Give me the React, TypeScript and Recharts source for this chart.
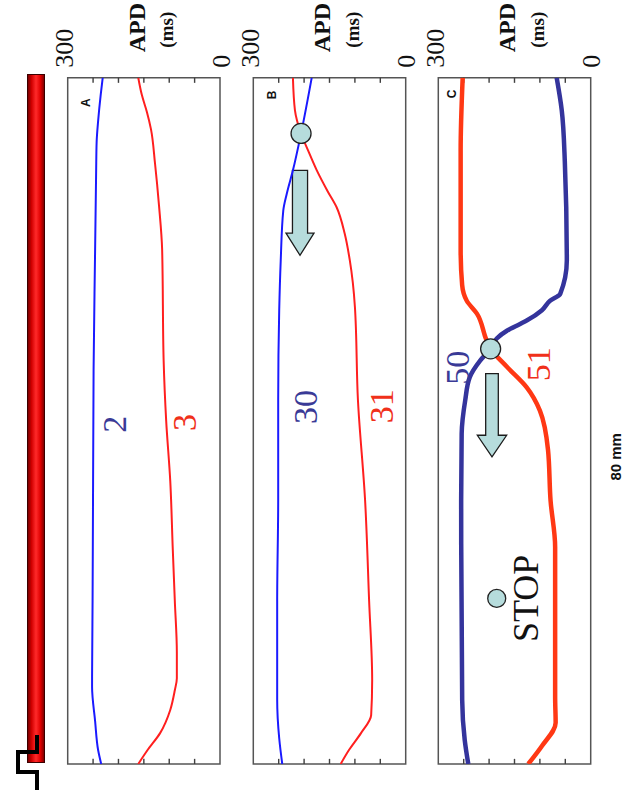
import React from 'react'
import { LineChart, Line, XAxis, YAxis, ReferenceArea, ReferenceDot } from 'recharts'

// position along the strand in mm (0 = paced end, bottom) and APD in ms
const A_BLUE_POS = [80, 78, 75, 72.5, 69, 60, 46, 33, 19, 9, 5, 1.6, 0]
const A_BLUE_APD = [231, 235, 240, 243, 244, 246, 249, 250, 251, 252, 246, 240, 234]
const A_RED_POS = [80, 78, 76, 74, 70, 65, 60, 47, 40, 33, 25, 19, 13, 10, 8.6, 6.3, 3.6, 1.6, 0]
const A_RED_APD = [161, 154, 144, 136, 128, 120, 114, 111, 106, 98, 93, 89, 85, 85, 89, 98, 118, 143, 161]

const B_BLUE_POS = [80, 73.5, 69.2, 66.5, 64.5, 58.7, 52.9, 42.4, 30.8, 19, 7.5, 3, 0]
const B_BLUE_APD = [185, 206, 222, 234, 241, 246, 249, 251, 251, 253, 253, 249, 243]
const B_RED_POS = [80, 76.2, 73.5, 71.5, 69.2, 66.8, 64.9, 61.8, 58.7, 53.3, 42.4, 30.8, 19, 9.8, 5.7, 3.6, 1.6, 0]
const B_RED_APD = [222, 218, 206, 192, 175, 154, 136, 120, 110, 100, 94, 80, 72, 66, 68, 88, 112, 128]

const C_BLUE_POS = [80, 76.2, 70.3, 58.7, 54.8, 54, 52.9, 51.7, 51.3, 50.5, 49.6, 48.4, 47, 45.1, 42.4, 38.5, 30.7, 7.5, 2.8, 0]
const C_BLUE_APD = [67, 57, 51, 47, 60, 80, 96, 126, 139, 165, 185, 197, 218, 238, 247, 254, 255, 253, 248, 241]
const C_RED_POS = [80, 71.5, 59.9, 55.8, 54, 52.5, 49.4, 48.4, 46.3, 43.9, 41.2, 36.6, 30.7, 25.3, 7.8, 4.8, 2.1, 0]
const C_RED_APD = [252, 256, 256, 253, 244, 224, 205, 197, 165, 126, 100, 84, 79, 70, 70, 69, 96, 123]

const APD_TICKS = [0, 50, 100, 150, 200, 250, 300]
const INNER_TICKS = [50, 100, 150, 200, 250]
const POS_MIN = 0
const POS_MAX = 80
const TICK_LEN = 0.6 // mm
const TICK_HALF = 1.4 // ms

const zip = (pos: number[], apd: number[]) => pos.map((p, i) => ({ pos: p, apd: apd[i] }))

const W = 627
const H = 801
const TOP = 77.7
const BOTTOM = 764

const SERIF = '"Liberation Serif", "Times New Roman", serif'
const SANS = '"Liberation Sans", Arial, sans-serif'
const FRAME = '#555'
const TICK = '#404040'
const TEAL = '#b6dcdc'
const NAVY = '#3a3a96'
const ORANGE = '#f0301a'

// rotated text drawn at a data point
const vText = (text: string, size: number, color: string, weight = 'normal', family = SERIF) =>
  (p: any) => (
    <text transform={`translate(${p.cx},${p.cy}) rotate(-90)`} textAnchor="middle"
      dominantBaseline="central" fontSize={size} fill={color} fontWeight={weight} fontFamily={family}>
      {text}
    </text>
  )

const arrowShape = (shaft: number, head: number) => (p: any) => {
  const { x, y, width: w, height: h } = p
  const cx = x + w / 2
  const s = (w * shaft) / 2
  const hy = y + h * (1 - head)
  const pts = [[cx - s, y], [cx + s, y], [cx + s, hy], [x + w, hy], [cx, y + h], [x, hy], [cx - s, hy]]
  return <polygon points={pts.map(q => q.join(',')).join(' ')} fill={TEAL} stroke="#1c1c1c" strokeWidth={1.3} />
}

const TopTick = (p: any) => {
  const v = p.payload?.value
  if (v !== 0 && v !== 300) return <g />
  return (
    <text transform={`translate(${p.x + (v === 300 ? -3 : 1)},${p.y - 15}) rotate(-90)`} textAnchor="start"
      dominantBaseline="central" fontSize={26} fontFamily={SERIF} fill="#111">
      {v}
    </text>
  )
}

const ApdTitle = ({ viewBox }: any) => (
  <g fontFamily={SERIF} fontWeight="bold" fill="#111">
    <text transform={`translate(${viewBox.x + 69},${viewBox.y - 50}) rotate(-90)`} textAnchor="middle"
      dominantBaseline="central" fontSize={24}>APD</text>
    <text transform={`translate(${viewBox.x + 99},${viewBox.y - 48}) rotate(-90)`} textAnchor="middle"
      dominantBaseline="central" fontSize={19}>(ms)</text>
  </g>
)

const MmTitle = ({ viewBox }: any) => (
  <text transform={`translate(${viewBox.x + 26},${viewBox.y + viewBox.height / 2 + 36}) rotate(-90)`}
    textAnchor="middle" dominantBaseline="central" fontFamily={SANS} fontWeight="bold" fontSize={15} fill="#111">
    80 mm
  </text>
)

interface PanelProps {
  left: number
  right: number
  letter: string
  letterAt: [number, number]
  mmLabel?: boolean
  children?: React.ReactNode
}

function Panel({ left, right, letter, letterAt, mmLabel, children }: PanelProps) {
  return (
    <div style={{ position: 'absolute', left: 0, top: 0 }}>
      <LineChart layout="vertical" width={W} height={H}
        margin={{ top: TOP, bottom: H - BOTTOM, left, right: W - right }}>
        <XAxis xAxisId="top" orientation="top" mirror height={1} type="number" domain={[0, 300]} reversed
          allowDataOverflow ticks={APD_TICKS} interval={0} axisLine={false} tickSize={5} tickMargin={0}
          tickLine={false} tick={TopTick} label={{ content: ApdTitle }} />
        <YAxis dataKey="pos" type="number" domain={[POS_MIN, POS_MAX]} reversed allowDataOverflow orientation="right"
          mirror width={1} tick={false} tickLine={false} axisLine={false}
          label={mmLabel ? { content: MmTitle } : undefined} />
        <ReferenceArea xAxisId="top" x1={0} x2={300} y1={POS_MIN} y2={POS_MAX} fill="none" stroke={FRAME}
          strokeWidth={1.5} ifOverflow="visible" />
        {/* inward tick marks on both short edges */}
        {INNER_TICKS.map(t => (
          <ReferenceArea key={`t${t}`} xAxisId="top" x1={t - TICK_HALF} x2={t + TICK_HALF}
            y1={POS_MAX - TICK_LEN} y2={POS_MAX} fill={TICK} fillOpacity={1} stroke="none" ifOverflow="visible" />
        ))}
        {INNER_TICKS.map(t => (
          <ReferenceArea key={`b${t}`} xAxisId="top" x1={t - TICK_HALF} x2={t + TICK_HALF}
            y1={POS_MIN} y2={POS_MIN + TICK_LEN} fill={TICK} fillOpacity={1} stroke="none" ifOverflow="visible" />
        ))}
        <ReferenceDot xAxisId="top" x={letterAt[0]} y={letterAt[1]} r={0}
          shape={vText(letter, 12, '#111', 'bold', SANS)} />
        {children}
      </LineChart>
    </div>
  )
}

export default function App() {
  return (
    <div style={{ position: 'absolute', left: 0, top: 0, width: W, height: H, background: '#fff', overflow: 'hidden' }}>
      {/* the strand and the pacing electrode */}
      <div style={{
        position: 'absolute', left: 27, top: 74, width: 18, height: 689, boxSizing: 'border-box',
        border: '1px solid #3a0000',
        background: 'linear-gradient(to right, #7a0000 0%, #d00000 22%, #ff2a2a 50%, #e00000 78%, #800000 100%)',
      }} />
      <svg style={{ position: 'absolute', left: 0, top: 0 }} width={60} height={H}>
        <polyline points="37,735 37,752 18,752 18,772 37,772 37,790" fill="none" stroke="#000" strokeWidth={4} />
      </svg>

      <Panel left={67.7} right={220} letter="A" letterAt={[264, 77.1]}>
        <Line xAxisId="top" data={zip(A_BLUE_POS, A_BLUE_APD)} dataKey="apd" type="monotone" stroke="#1a1aff"
          strokeWidth={2} dot={false} isAnimationActive={false} />
        <Line xAxisId="top" data={zip(A_RED_POS, A_RED_APD)} dataKey="apd" type="monotone" stroke="#ff1f1f"
          strokeWidth={2} dot={false} isAnimationActive={false} />
        <ReferenceDot xAxisId="top" x={208.7} y={39.6} r={0} shape={vText('2', 34, NAVY)} />
        <ReferenceDot xAxisId="top" x={70.9} y={39.8} r={0} shape={vText('3', 34, ORANGE)} />
      </Panel>

      <Panel left={253.3} right={405.7} letter="B" letterAt={[264, 78]}>
        <ReferenceArea xAxisId="top" x1={180.5} x2={235.6} y1={59.3} y2={69.2} shape={arrowShape(0.54, 0.26)} />
        <Line xAxisId="top" data={zip(B_BLUE_POS, B_BLUE_APD)} dataKey="apd" type="monotone" stroke="#1a1aff"
          strokeWidth={2} dot={false} isAnimationActive={false} />
        <Line xAxisId="top" data={zip(B_RED_POS, B_RED_APD)} dataKey="apd" type="monotone" stroke="#ff1f1f"
          strokeWidth={2} dot={false} isAnimationActive={false} />
        <ReferenceDot xAxisId="top" x={206} y={73.5} r={10} fill={TEAL} stroke="#222" strokeWidth={1.3} />
        <ReferenceDot xAxisId="top" x={198.2} y={41.6} r={0} shape={vText('30', 34, NAVY)} />
        <ReferenceDot xAxisId="top" x={47.6} y={41.7} r={0} shape={vText('31', 34, ORANGE)} />
      </Panel>

      <Panel left={438.3} right={590.7} letter="C" letterAt={[273, 78.1]} mmLabel>
        <ReferenceArea xAxisId="top" x1={165.4} x2={223.2} y1={35.8} y2={45.5} shape={arrowShape(0.43, 0.26)} />
        <Line xAxisId="top" data={zip(C_BLUE_POS, C_BLUE_APD)} dataKey="apd" type="monotone" stroke="#34349c"
          strokeWidth={4.5} dot={false} isAnimationActive={false} />
        <Line xAxisId="top" data={zip(C_RED_POS, C_RED_APD)} dataKey="apd" type="monotone" stroke="#ff3814"
          strokeWidth={4.5} dot={false} isAnimationActive={false} />
        <ReferenceDot xAxisId="top" x={197} y={48.4} r={10} fill={TEAL} stroke="#222" strokeWidth={1.3} />
        <ReferenceDot xAxisId="top" x={185} y={19.3} r={9} fill={TEAL} stroke="#222" strokeWidth={1.3} />
        <ReferenceDot xAxisId="top" x={262.2} y={46.2} r={0} shape={vText('50', 34, NAVY)} />
        <ReferenceDot xAxisId="top" x={101.8} y={46.6} r={0} shape={vText('51', 34, ORANGE)} />
        <ReferenceDot xAxisId="top" x={127.4} y={19.3} r={0} shape={vText('STOP', 36, '#111')} />
      </Panel>
    </div>
  )
}
